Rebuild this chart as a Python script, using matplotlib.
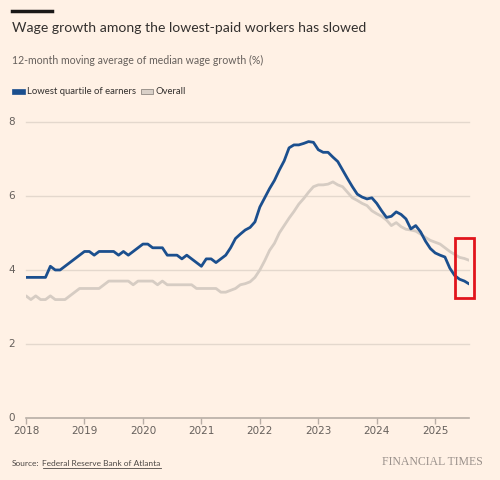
import numpy as np
import matplotlib
matplotlib.use("Agg")
import matplotlib.pyplot as plt
from matplotlib.patches import Rectangle

# monthly data, Jan 2018 onwards
start_year = 2018
lowest_quartile = [
    3.8, 3.8, 3.8, 3.8, 3.8, 4.1, 4.0, 4.0, 4.1, 4.2, 4.3, 4.4,
    4.5, 4.5, 4.4, 4.5, 4.5, 4.5, 4.5, 4.4, 4.5, 4.4, 4.5, 4.6,
    4.7, 4.7, 4.6, 4.6, 4.6, 4.4, 4.4, 4.4, 4.3, 4.4, 4.3, 4.2,
    4.1, 4.3, 4.3, 4.2, 4.3, 4.4, 4.6, 4.85, 4.97, 5.08, 5.15, 5.3,
    5.7, 5.95, 6.2, 6.42, 6.7, 6.95, 7.3, 7.38, 7.38, 7.42, 7.47, 7.45,
    7.25, 7.18, 7.18, 7.05, 6.93, 6.7, 6.47, 6.25, 6.05, 5.97, 5.92, 5.95,
    5.8, 5.6, 5.42, 5.45, 5.57, 5.5, 5.38, 5.11, 5.2, 5.03, 4.78, 4.58,
    4.46, 4.4, 4.35, 4.05, 3.85, 3.75, 3.7, 3.62,
]
overall = [
    3.3, 3.2, 3.3, 3.2, 3.2, 3.3, 3.2, 3.2, 3.2, 3.3, 3.4, 3.5,
    3.5, 3.5, 3.5, 3.5, 3.6, 3.7, 3.7, 3.7, 3.7, 3.7, 3.6, 3.7,
    3.7, 3.7, 3.7, 3.6, 3.7, 3.6, 3.6, 3.6, 3.6, 3.6, 3.6, 3.5,
    3.5, 3.5, 3.5, 3.5, 3.4, 3.4, 3.45, 3.5, 3.6, 3.63, 3.68, 3.8,
    4.0, 4.25, 4.53, 4.72, 5.0, 5.2, 5.4, 5.58, 5.78, 5.93, 6.1, 6.25,
    6.3, 6.3, 6.32, 6.38, 6.3, 6.25, 6.1, 5.95, 5.88, 5.8, 5.74, 5.6,
    5.52, 5.45, 5.35, 5.2, 5.28, 5.17, 5.1, 5.08, 5.05, 4.97, 4.88, 4.8,
    4.75, 4.7, 4.6, 4.5, 4.42, 4.34, 4.31, 4.26,
]
year_ticks = list(range(2018, 2026))
y_ticks = [0, 2, 4, 6, 8]

bg = "#fff1e5"
blue = "#1b4f8e"
grey = "#d6ccc3"
grid_col = "#e4d8cd"
text_col = "#66605c"

dates = start_year + np.arange(len(lowest_quartile)) / 12

fig = plt.figure(figsize=(5, 4.8), dpi=100, facecolor=bg)
ax = fig.add_axes([0.052, 0.1292, 0.8866, 0.6167], facecolor=bg)

ax.plot(dates, overall, color=grey, lw=2.0, solid_capstyle="round", zorder=3)
ax.plot(dates, lowest_quartile, color=blue, lw=2.0, solid_capstyle="round", zorder=4)

ax.set_xlim(start_year, dates[-1])
ax.set_ylim(0, 8)
ax.set_yticks(y_ticks)
ax.set_xticks(year_ticks)
ax.set_xticklabels([str(y) for y in year_ticks])
for y in y_ticks[1:]:
    ax.axhline(y, color=grid_col, lw=1, zorder=1, clip_on=False)
ax.axhline(0, color="#b8aea6", lw=1.2, zorder=2, clip_on=False)

for s in ax.spines.values():
    s.set_visible(False)
ax.tick_params(axis="y", length=0, pad=8, labelsize=7.5, labelcolor=text_col)
ax.tick_params(axis="x", length=4, width=1, color="#b8aea6", pad=2,
               labelsize=7.5, labelcolor=text_col)
for lab in ax.get_yticklabels():
    lab.set_verticalalignment("center")

# highlight box around the latest readings
ax.add_patch(Rectangle((2025.342, 3.25), 0.325, 1.62, fill=False,
                       edgecolor="#e1141c", lw=2, clip_on=False, zorder=6))

# header
fig.add_artist(plt.Line2D([12/500, 52/500], [1 - 10.5/480] * 2,
                          color="#1a1817", lw=2.5))
fig.text(12/500, 1 - 28.5/480, "Wage growth among the lowest-paid workers has slowed",
         fontsize=10.05, color="#33302e", va="center", family="Lato")
fig.text(12/500, 1 - 60/480, "12-month moving average of median wage growth (%)",
         fontsize=7.6, color=text_col, va="center", family="Lato")

# legend
fig.patches.append(Rectangle((12/500, 1 - 94/480), 13/500, 5/480,
                             transform=fig.transFigure, facecolor=blue, edgecolor=blue, lw=0.5))
fig.text(27/500, 1 - 92/480, "Lowest quartile of earners", fontsize=6.8,
         color="#33302e", va="center", family="Lato")
fig.patches.append(Rectangle((141/500, 1 - 94/480), 12/500, 5/480,
                             transform=fig.transFigure, facecolor="#d9d0c8",
                             edgecolor="#8f8882", lw=0.6))
fig.text(156/500, 1 - 92/480, "Overall", fontsize=6.8,
         color="#33302e", va="center", family="Lato")

# footer
renderer = fig.canvas.get_renderer()
src = fig.text(12/500, 1 - 463/480, "Source:", fontsize=6.0, color="#4d4845",
               va="center", family="Lato")
x_link = src.get_window_extent(renderer).x1 / 500 + 3/500
link = fig.text(x_link, 1 - 463/480, "Federal Reserve Bank of Atlanta", fontsize=6.0,
                color="#4d4845", va="center", family="Lato")
x_end = link.get_window_extent(renderer).x1 / 500
fig.add_artist(plt.Line2D([x_link, x_end], [1 - 467.5/480] * 2,
                          color="#4d4845", lw=0.6))
fig.text(483/500, 1 - 462/480, "FINANCIAL TIMES", fontsize=8.5,
         color="#9a918b", va="center", ha="right", family="Liberation Serif")

fig.savefig("out.png", dpi=100, facecolor=bg)
